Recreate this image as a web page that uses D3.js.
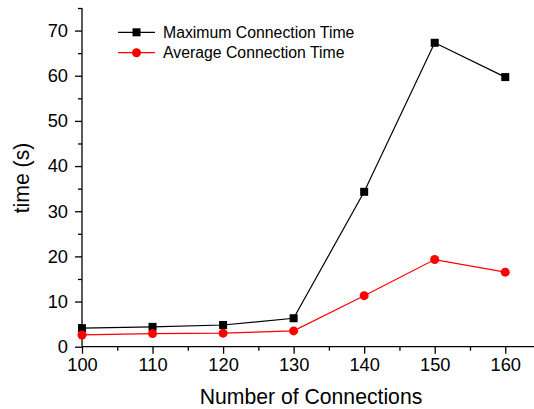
<html>
<head>
  <script src="https://d3js.org/d3.v7.min.js"></script>
  <style>
  body { margin: 0; background: #fff; }
  svg { font-family: "Liberation Sans", Arial, sans-serif; }
  </style>
</head>
<body>
  <svg id="chart" width="534" height="409"></svg>
  <script>

var connections = [100, 110, 120, 130, 140, 150, 160];
var maxTime = [4.1, 4.4, 4.8, 6.3, 34.3, 67.3, 59.7];
var avgTime = [2.6, 2.9, 3.0, 3.5, 11.3, 19.3, 16.5];
var xTicks = [100, 110, 120, 130, 140, 150, 160];
var yTicks = [0, 10, 20, 30, 40, 50, 60, 70];
var seriesNames = ["Maximum Connection Time", "Average Connection Time"];
var seriesColors = ["#000", "#ff0000"];

var svg = d3.select("#chart");

var x = d3.scaleLinear().domain([100, 164.5]).range([82, 537]);
var y = d3.scaleLinear().domain([0, 75]).range([346.7, 8]);

// x axis, major + minor ticks
var xAxis = svg.append("g")
  .attr("transform", "translate(0,346.7)")
  .call(d3.axisBottom(x).tickValues(xTicks).tickSize(7).tickPadding(4).tickFormat(d3.format("d")));
svg.append("g")
  .attr("transform", "translate(0,346.7)")
  .call(d3.axisBottom(x).tickValues(d3.range(105, 165, 10)).tickSize(4).tickFormat(""))
  .select(".domain").remove();

var yAxis = svg.append("g")
  .attr("transform", "translate(82,0)")
  .call(d3.axisLeft(y).tickValues(yTicks).tickSize(7).tickPadding(7));
svg.append("g")
  .attr("transform", "translate(82,0)")
  .call(d3.axisLeft(y).tickValues(d3.range(5, 76, 10)).tickSize(4).tickFormat(""))
  .select(".domain").remove();

svg.selectAll(".domain").attr("stroke-width", 1.3);
svg.selectAll(".tick line").attr("stroke-width", 1.3);
xAxis.selectAll("text").attr("font-size", 18.3).attr("fill", "#000");
yAxis.selectAll("text").attr("font-size", 18.3).attr("fill", "#000");
xAxis.select(".domain").attr("d", "M82,0H534");
yAxis.select(".domain").attr("d", "M0,346.7V8");

svg.append("text")
  .attr("x", 311).attr("y", 404)
  .attr("text-anchor", "middle")
  .attr("font-size", 21.2)
  .text("Number of Connections");

svg.append("text")
  .attr("transform", "translate(29,178) rotate(-90)")
  .attr("text-anchor", "middle")
  .attr("font-size", 21.2)
  .text("time (s)");

var line = d3.line()
  .x(function(d, i) { return x(connections[i]); })
  .y(function(d) { return y(d); });

// max series
svg.append("path")
  .datum(maxTime)
  .attr("d", line)
  .attr("fill", "none")
  .attr("stroke", seriesColors[0])
  .attr("stroke-width", 1.2);
svg.selectAll(".sq")
  .data(maxTime)
  .enter().append("rect")
  .attr("x", function(d, i) { return x(connections[i]) - 4; })
  .attr("y", function(d) { return y(d) - 4; })
  .attr("width", 8).attr("height", 8)
  .attr("fill", seriesColors[0]);

// avg series
svg.append("path")
  .datum(avgTime)
  .attr("d", line)
  .attr("fill", "none")
  .attr("stroke", seriesColors[1])
  .attr("stroke-width", 1.2);
svg.selectAll(".dot")
  .data(avgTime)
  .enter().append("circle")
  .attr("cx", function(d, i) { return x(connections[i]); })
  .attr("cy", function(d) { return y(d); })
  .attr("r", 4.5)
  .attr("fill", seriesColors[1]);

// legend
var legend = svg.append("g");
for (var i = 0; i < seriesNames.length; i++) {
  var ly = 32.3 + i * 20.4;
  legend.append("line")
    .attr("x1", 118).attr("x2", 155)
    .attr("y1", ly).attr("y2", ly)
    .attr("stroke", seriesColors[i]).attr("stroke-width", 1.2);
  if (i == 0) {
    legend.append("rect")
      .attr("x", 132.5).attr("y", ly - 4).attr("width", 8).attr("height", 8)
      .attr("fill", seriesColors[i]);
  } else {
    legend.append("circle")
      .attr("cx", 136.5).attr("cy", ly).attr("r", 4.5)
      .attr("fill", seriesColors[i]);
  }
  legend.append("text")
    .attr("x", 163).attr("y", ly + 5.6)
    .attr("font-size", 15.8)
    .text(seriesNames[i]);
}

  </script>
</body>
</html>
